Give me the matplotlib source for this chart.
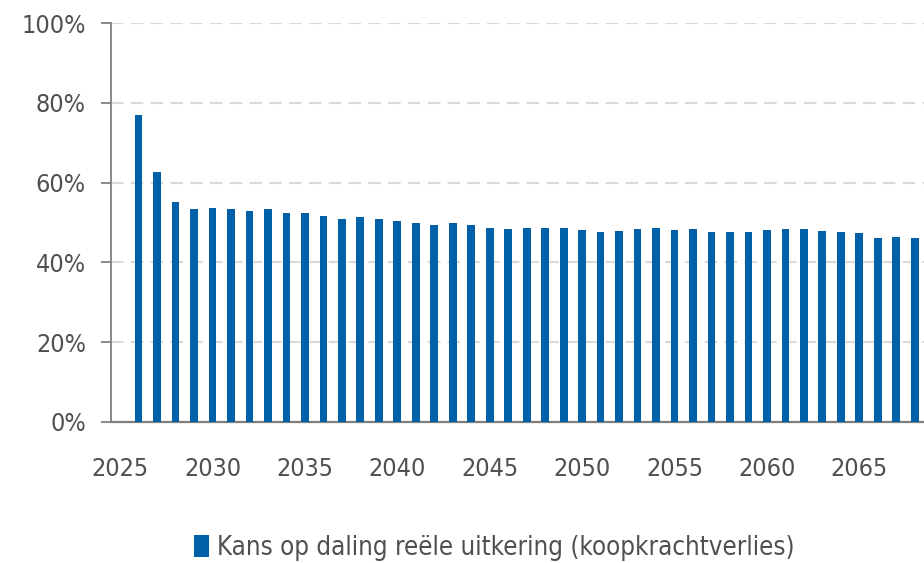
import numpy as np
import matplotlib.pyplot as plt
from matplotlib.patches import Patch

plt.rcParams['font.family'] = ['DejaVu Sans']
plt.rcParams['font.stretch'] = 'condensed'

# data: chance of real benefit decrease (purchasing power loss), per year
years = list(range(2025, 2069))
kans = [np.nan,
        76.9, 62.7, 55.1, 53.4, 53.7, 53.3, 52.9, 53.3, 52.3, 52.3,
        51.7, 51.0, 51.3, 50.9, 50.4, 49.9, 49.4, 49.8, 49.4, 48.7,
        48.5, 48.7, 48.7, 48.7, 48.1, 47.5, 48.0, 48.5, 48.7, 48.1,
        48.3, 47.7, 47.7, 47.6, 48.1, 48.3, 48.5, 48.0, 47.7, 47.3,
        46.2, 46.4, 46.0]
ytick_vals = [0, 20, 40, 60, 80, 100]
label = 'Kans op daling reële uitkering (koopkrachtverlies)'

blue = '#0061a8'
txt = '#505050'

fig = plt.figure(figsize=(9.24, 5.63), dpi=100)
ax = fig.add_axes([0.120, 0.2505, 0.880, 0.7085])

x = np.arange(len(years))
ax.bar(x, kans, width=0.42, color=blue, zorder=3)

ax.set_xlim(-0.5, len(years) - 0.5)
ax.set_ylim(0, 100)

ax.set_yticks(ytick_vals)
ax.set_yticklabels(['%d%%' % v for v in ytick_vals])
ax.set_xticks(x[::5])
ax.set_xticklabels([str(y) for y in years[::5]])

ax.yaxis.grid(True, color='#d9d9d9', linestyle=(0, (6, 3.5)), linewidth=1.5)
ax.set_axisbelow(True)

for s in ['top', 'right']:
    ax.spines[s].set_visible(False)
ax.spines['left'].set_color('#7f7f7f')
ax.spines['left'].set_linewidth(1.3)
ax.spines['bottom'].set_color('#7f7f7f')
ax.spines['bottom'].set_linewidth(1.6)

ax.tick_params(axis='y', length=7, width=1.3, color='#7f7f7f', pad=11,
               labelsize=18, labelcolor=txt)
ax.tick_params(axis='x', length=0, pad=25, labelsize=18, labelcolor=txt)

handle = Patch(facecolor=blue, edgecolor='none')
fig.legend([handle], [label], loc='center', bbox_to_anchor=(0.535, 0.027),
           frameon=False, fontsize=18.5, labelcolor=txt, handlelength=0.6,
           handleheight=0.9, handletextpad=0.3)

fig.savefig('out.png', dpi=100)
